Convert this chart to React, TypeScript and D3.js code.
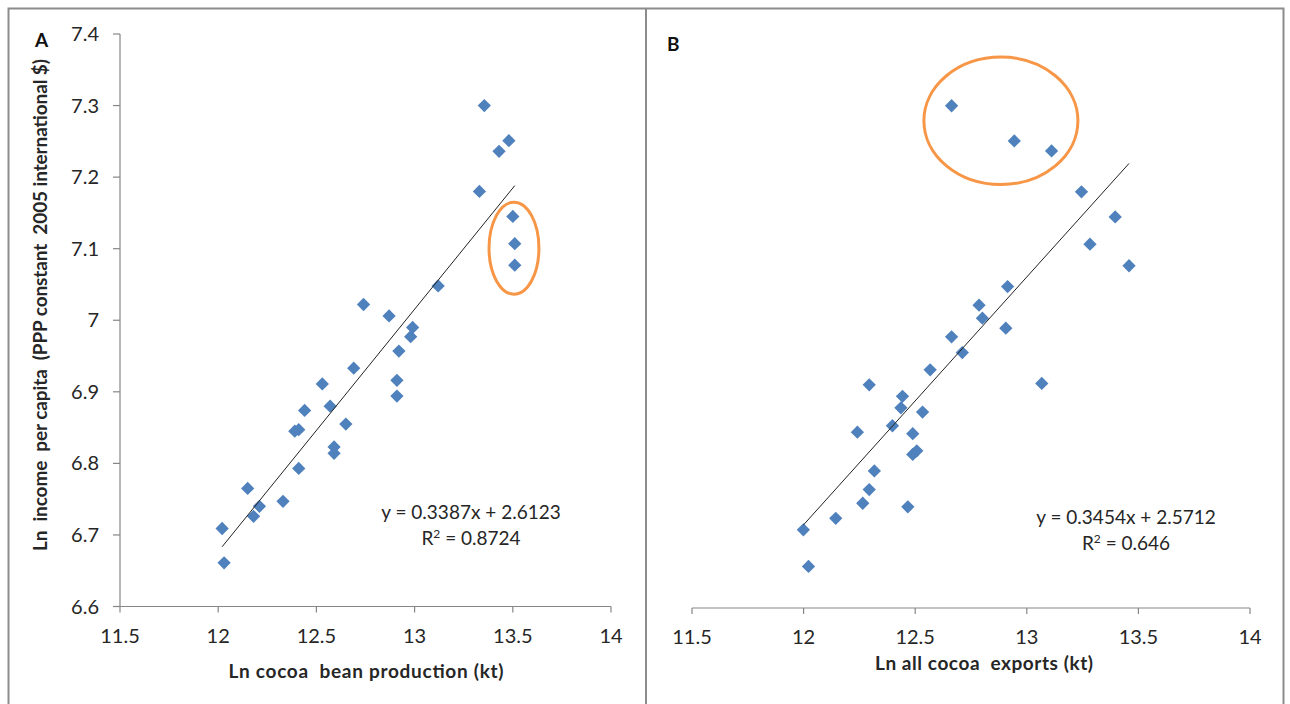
import React from "react";
import * as d3 from "d3";

// Shared axis ticks
const xTicks = [11.5, 12, 12.5, 13, 13.5, 14];
const yTicks = [6.6, 6.7, 6.8, 6.9, 7, 7.1, 7.2, 7.3, 7.4];

// Panel A: Ln cocoa bean production (kt) vs Ln income per capita
const prodX = [13.355, 13.48, 13.43, 13.33, 13.5, 13.51, 13.51, 13.12, 12.74, 12.87, 12.99, 12.98, 12.92, 12.69, 12.53, 12.91, 12.91, 12.57, 12.44, 12.65, 12.39, 12.41, 12.59, 12.59, 12.41, 12.15, 12.33, 12.21, 12.18, 12.02, 12.03];
const prodY = [7.3, 7.251, 7.236, 7.18, 7.145, 7.107, 7.077, 7.048, 7.022, 7.006, 6.99, 6.977, 6.957, 6.933, 6.911, 6.916, 6.894, 6.88, 6.874, 6.855, 6.845, 6.847, 6.823, 6.814, 6.793, 6.765, 6.747, 6.74, 6.726, 6.709, 6.661];
const prodFit = { slope: 0.3387, intercept: 2.6123, r2: "0.8724" };

// Panel B: Ln all cocoa exports (kt) vs Ln income per capita
const expX = [12.663, 12.944, 13.111, 13.245, 13.396, 13.283, 13.458, 12.914, 12.786, 12.801, 12.906, 12.663, 12.711, 12.567, 12.294, 13.067, 12.443, 12.436, 12.533, 12.398, 12.241, 12.489, 12.507, 12.489, 12.317, 12.294, 12.265, 12.467, 12.144, 11.999, 12.022];
const expY = [7.3, 7.251, 7.237, 7.18, 7.145, 7.107, 7.077, 7.048, 7.022, 7.004, 6.99, 6.978, 6.956, 6.932, 6.911, 6.913, 6.895, 6.879, 6.873, 6.854, 6.845, 6.843, 6.819, 6.814, 6.791, 6.765, 6.746, 6.741, 6.725, 6.709, 6.658];
const expFit = { slope: 0.3454, intercept: 2.5712, r2: "0.646" };

// Highlight ellipses (data-space centre and radii)
const ellipseA = { cx: 13.506, cy: 7.1007, rx: 0.127, ry: 0.0643 };
const ellipseB = { cx: 12.884, cy: 7.279, rx: 0.345, ry: 0.0888 };

const FONT = "Lato, 'Open Sans', sans-serif";
const AXIS = "#868686";
const TEXT = "#262626";
const BLUE = "#4F81BD";
const ORANGE = "#F79646";

const diamondPath = d3.symbol().type(d3.symbolSquare).size(88)() as string;

function Panel(props: {
  xs: number[];
  ys: number[];
  fit: { slope: number; intercept: number; r2: string };
  xRange: [number, number];
  yRange: [number, number];
  showY: boolean;
  ell: { cx: number; cy: number; rx: number; ry: number };
  eqPos: [number, number];
}) {
  const { xs, ys, fit, xRange, yRange, showY, ell, eqPos } = props;
  const x = d3.scaleLinear().domain([11.5, 14]).range(xRange);
  const y = d3.scaleLinear().domain([6.6, 7.4]).range(yRange);
  const x0 = d3.min(xs) as number;
  const x1 = d3.max(xs) as number;
  const line = d3.line<number>().x((d) => x(d)).y((d) => y(fit.slope * d + fit.intercept));
  const yBase = y(6.6);
  return (
    <g>
      {/* x axis */}
      <line x1={x(11.5)} x2={x(14)} y1={yBase} y2={yBase} stroke={AXIS} strokeWidth={1.2} />
      {xTicks.map((t) => (
        <g key={"xt" + t}>
          <line x1={x(t)} x2={x(t)} y1={yBase} y2={yBase + 6} stroke={AXIS} strokeWidth={1.2} />
          <text x={x(t)} y={yBase + 36} textAnchor="middle" fontFamily={FONT} fontSize={20} fill={TEXT}>
            {t}
          </text>
        </g>
      ))}
      {showY && (
        <g>
          <line x1={x(11.5)} x2={x(11.5)} y1={y(6.6)} y2={y(7.4)} stroke={AXIS} strokeWidth={1.2} />
          {yTicks.map((t) => (
            <g key={"yt" + t}>
              <line x1={x(11.5) - 7} x2={x(11.5)} y1={y(t)} y2={y(t)} stroke={AXIS} strokeWidth={1.2} />
              <text x={x(11.5) - 21} y={y(t) + 7} textAnchor="end" fontFamily={FONT} fontSize={20} fill={TEXT}>
                {t}
              </text>
            </g>
          ))}
        </g>
      )}
      {/* points */}
      {xs.map((d, i) => (
        <path
          key={"p" + i}
          d={diamondPath}
          transform={`translate(${x(d)},${y(ys[i])}) rotate(45)`}
          fill={BLUE}
        />
      ))}
      {/* trend line */}
      <path d={line([x0, x1]) as string} stroke="#222" strokeWidth={1} fill="none" />
      {/* highlight ellipse */}
      <ellipse
        cx={x(ell.cx)}
        cy={y(ell.cy)}
        rx={x(ell.cx + ell.rx) - x(ell.cx)}
        ry={y(ell.cy) - y(ell.cy + ell.ry)}
        fill="none"
        stroke={ORANGE}
        strokeWidth={3}
      />
      {/* equation */}
      <text x={eqPos[0]} y={eqPos[1]} textAnchor="middle" fontFamily={FONT} fontSize={19} fill={TEXT}>
        {`y = ${fit.slope}x + ${fit.intercept}`}
      </text>
      <text x={eqPos[0]} y={eqPos[1] + 26} textAnchor="middle" fontFamily={FONT} fontSize={19} fill={TEXT}>
        R<tspan dy={-7} fontSize={12}>2</tspan>
        <tspan dy={7}>{` = ${fit.r2}`}</tspan>
      </text>
    </g>
  );
}

export default function App() {
  return (
    <div style={{ position: "absolute", left: 0, top: 0 }}>
      <svg width={1290} height={704} style={{ display: "block", background: "#fff" }}>
        <rect x={0} y={0} width={1290} height={704} fill="#fff" />
        {/* outer frame and divider */}
        <rect x={8.5} y={8.5} width={1275} height={720} fill="none" stroke="#8c8c8c" strokeWidth={2} />
        <line x1={646} x2={646} y1={8} y2={704} stroke="#8c8c8c" strokeWidth={2} />

        <Panel
          xs={prodX}
          ys={prodY}
          fit={prodFit}
          xRange={[120, 611]}
          yRange={[606.5, 34]}
          showY={true}
          ell={ellipseA}
          eqPos={[471, 519]}
        />
        <Panel
          xs={expX}
          ys={expY}
          fit={expFit}
          xRange={[692, 1250]}
          yRange={[608, 34]}
          showY={false}
          ell={ellipseB}
          eqPos={[1126, 524]}
        />

        {/* panel letters */}
        <text x={35} y={47} fontFamily={FONT} fontWeight="bold" fontSize={19} fill="#111">A</text>
        <text x={667} y={51} fontFamily={FONT} fontWeight="bold" fontSize={19} fill="#111">B</text>

        {/* axis titles */}
        <text x={366} y={678} textAnchor="middle" fontFamily={FONT} fontWeight="bold" fontSize={19} fill={TEXT}
          textLength={275} lengthAdjust="spacing" style={{ whiteSpace: "pre" }}>
          {"Ln cocoa  bean production (kt)"}
        </text>
        <text x={984} y={670} textAnchor="middle" fontFamily={FONT} fontWeight="bold" fontSize={19} fill={TEXT}
          textLength={218} lengthAdjust="spacing" style={{ whiteSpace: "pre" }}>
          {"Ln all cocoa  exports (kt)"}
        </text>
        <text
          transform="translate(47,305) rotate(-90)"
          textAnchor="middle"
          fontFamily={FONT}
          fontWeight="bold"
          fontSize={19}
          fill={TEXT}
          textLength={492}
          lengthAdjust="spacing"
          style={{ whiteSpace: "pre" }}
        >
          {"Ln  income  per capita  (PPP constant  2005 international $)"}
        </text>
      </svg>
    </div>
  );
}
